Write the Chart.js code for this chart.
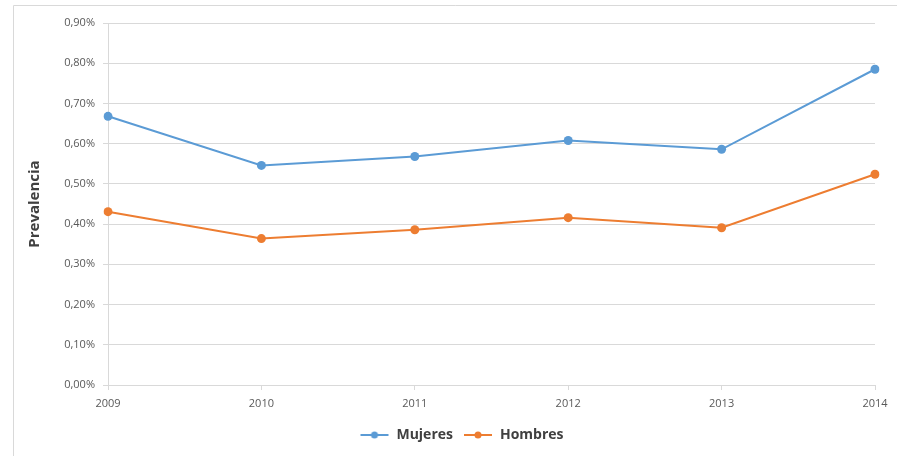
<!DOCTYPE html>
<html>
<head>
<meta charset="utf-8">
<script src="https://cdn.jsdelivr.net/npm/chart.js@4/dist/chart.umd.min.js"></script>
<style>
  html, body { margin: 0; padding: 0; background: #ffffff; }
  #wrap { width: 897px; height: 456px; position: relative; }
</style>
</head>
<body>
<div id="wrap"><canvas id="chart" width="897" height="456"></canvas></div>
<script>
// Prevalencia por sexo, 2009-2014 (en %)
const years = ['2009', '2010', '2011', '2012', '2013', '2014'];
const mujeres = [0.668, 0.546, 0.568, 0.608, 0.586, 0.785];
const hombres = [0.431, 0.364, 0.386, 0.416, 0.391, 0.524];
const seriesNames = ['Mujeres', 'Hombres'];
const seriesColors = ['#5B9BD5', '#ED7D31'];
const yTitle = 'Prevalencia';

const FONT = '"Open Sans", Lato, "DejaVu Sans", sans-serif';
const GRID = '#D9D9D9';

// Legend swatch: short line with a dot in the middle
function legendSwatch(color) {
  const c = document.createElement('canvas');
  c.width = 30; c.height = 10;
  const g = c.getContext('2d');
  g.strokeStyle = color; g.lineWidth = 2;
  g.beginPath(); g.moveTo(1, 5); g.lineTo(29, 5); g.stroke();
  g.fillStyle = color;
  g.beginPath(); g.arc(15, 5, 3.5, 0, Math.PI * 2); g.fill();
  return c;
}

// Thin outer frame along the top and left edges
const framePlugin = {
  id: 'frame',
  afterDraw(chart) {
    const ctx = chart.ctx;
    ctx.save();
    ctx.strokeStyle = GRID;
    ctx.lineWidth = 1;
    ctx.beginPath();
    ctx.moveTo(13.5, chart.height);
    ctx.lineTo(13.5, 5.5);
    ctx.lineTo(chart.width, 5.5);
    ctx.stroke();
    ctx.restore();
  }
};

// Nudge the legend a little to the right of the plot centre
const legendShift = {
  id: 'legendShift',
  afterLayout(chart) {
    const lg = chart.legend;
    if (lg) { lg.left += 17; lg.right += 17; }
  }
};

const datasets = [mujeres, hombres].map((vals, i) => ({
  label: seriesNames[i],
  data: vals,
  borderColor: seriesColors[i],
  backgroundColor: seriesColors[i],
  borderWidth: 2,
  pointRadius: 4.5,
  pointHoverRadius: 4.5,
  pointBorderWidth: 0,
  tension: 0,
  fill: false
}));

new Chart(document.getElementById('chart'), {
  type: 'line',
  data: { labels: years, datasets },
  plugins: [framePlugin, legendShift],
  options: {
    responsive: false,
    animation: false,
    devicePixelRatio: 1,
    layout: { padding: { left: 14, right: 22, top: 23, bottom: 4 } },
    plugins: {
      tooltip: { enabled: false },
      legend: {
        position: 'bottom',
        labels: {
          font: { family: FONT, size: 14, weight: 'bold' },
          color: '#404040',
          usePointStyle: true,
          pointStyleWidth: 30,
          boxHeight: 10,
          padding: 10,
          generateLabels(chart) {
            return chart.data.datasets.map((ds, i) => ({
              text: ds.label,
              pointStyle: legendSwatch(ds.borderColor),
              fillStyle: ds.borderColor,
              strokeStyle: ds.borderColor,
              lineWidth: 0,
              hidden: false,
              datasetIndex: i,
              fontColor: '#404040'
            }));
          }
        }
      }
    },
    scales: {
      x: {
        offset: false,
        grid: { display: true, drawOnChartArea: false, drawTicks: true, tickLength: 5, color: GRID },
        border: { color: GRID, width: 1 },
        ticks: { font: { family: FONT, size: 11 }, color: '#595959', padding: 7, maxRotation: 0 },
        afterFit(s) { s.height = 33; }
      },
      y: {
        min: 0,
        max: 0.9,
        grid: { color: GRID, drawTicks: true, tickLength: 5 },
        border: { color: GRID, width: 1 },
        ticks: {
          stepSize: 0.1,
          font: { family: FONT, size: 11 },
          color: '#595959',
          padding: 8,
          callback: v => v.toFixed(2).replace('.', ',') + '%'
        },
        title: {
          display: true,
          text: yTitle,
          font: { family: FONT, size: 15, weight: 'bold' },
          color: '#404040',
          padding: { top: 12, bottom: 6 }
        },
        afterFit(s) { s.width = 94; }
      }
    }
  }
});
</script>
</body>
</html>
